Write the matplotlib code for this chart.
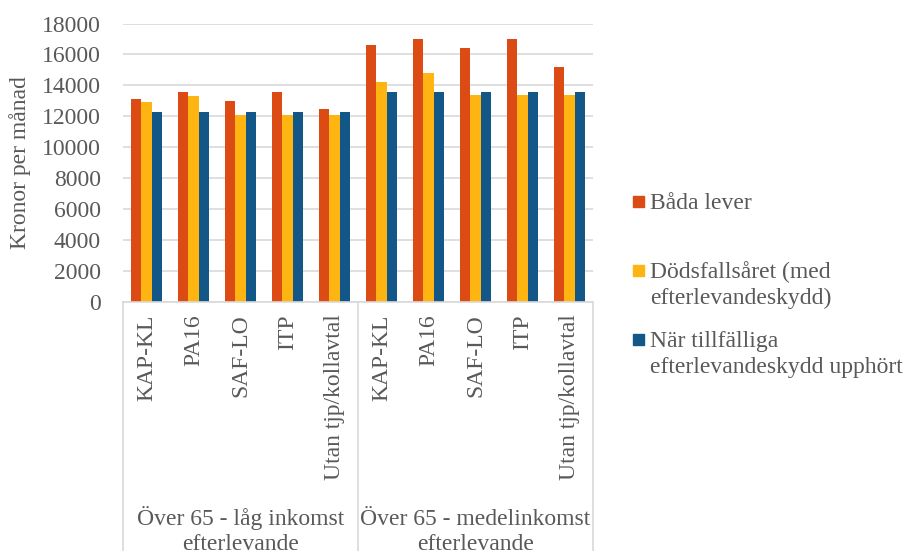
import numpy as np
import matplotlib.pyplot as plt
from matplotlib.patches import Rectangle

# Data (kronor per månad)
categories = ["KAP-KL", "PA16", "SAF-LO", "ITP", "Utan tjp/kollavtal"] * 2
groups = ["Över 65 - låg inkomst\nefterlevande", "Över 65 - medelinkomst\nefterlevande"]
series_names = ["Båda lever", "Dödsfallsåret (med\nefterlevandeskydd)",
                "När tillfälliga\nefterlevandeskydd upphört"]
bada_lever = [13100, 13600, 13000, 13600, 12500, 16600, 17000, 16400, 17000, 15200]
dodsfallsaret = [12900, 13300, 12100, 12100, 12100, 14200, 14800, 13400, 13400, 13400]
upphort = [12300, 12300, 12300, 12300, 12300, 13600, 13600, 13600, 13600, 13600]
colors = ["#DC4B14", "#FEB512", "#135789"]

TXT = "#595959"
GRID = "#D9D9D9"
FS = 17

plt.rcParams["font.family"] = ["Liberation Serif", "DejaVu Serif"]

fig = plt.figure(figsize=(9.09, 5.51), dpi=100)
W, H = 909, 551
ax = fig.add_axes([123 / W, 1 - 302 / H, 470 / W, (302 - 23.5) / H])

x = np.arange(len(categories))
bw = 0.22
for i, (vals, col) in enumerate(zip([bada_lever, dodsfallsaret, upphort], colors)):
    ax.bar(x + (i - 1) * bw, vals, bw, color=col, zorder=2)

ax.set_xlim(-0.5, len(categories) - 0.5)
ax.set_ylim(0, 18000)
ax.set_yticks(range(0, 18001, 2000))
ax.grid(axis="y", color=GRID, lw=1.2, zorder=0)
ax.set_axisbelow(True)
for s in ["top", "right", "left"]:
    ax.spines[s].set_visible(False)
ax.spines["bottom"].set_color(GRID)
ax.spines["bottom"].set_linewidth(1.2)

ax.set_xticks(x)
ax.set_xticklabels(categories, rotation=90, va="top", ha="center")
ax.tick_params(axis="x", length=0, pad=9, labelsize=FS, labelcolor=TXT)
ax.tick_params(axis="y", length=0, pad=16, labelsize=FS, labelcolor=TXT)
ax.set_ylabel("Kronor per månad", fontsize=FS, color=TXT, labelpad=8)

# multi-level category axis: separators and group labels
tr = ax.get_xaxis_transform()
for xs in [-0.5, 4.5, 9.5]:
    ax.plot([xs, xs], [0, -0.9], transform=tr, color=GRID, lw=1.2, clip_on=False)
for gi, g in enumerate(groups):
    ax.text(gi * 5 + 2, -(550 - 302) / 278.5, g, transform=tr, ha="center",
            va="baseline", fontsize=FS, color=TXT, linespacing=1.25)

# legend at right (baseline of last line of each entry)
legend_y = [201, 270, 339]
legend_base = [209, 304, 373]
for name, col, yc, yb in zip(series_names, colors, legend_y, legend_base):
    fig.add_artist(Rectangle((633 / W, 1 - (yc + 5.5) / H), 11 / W, 11 / H,
                             transform=fig.transFigure, color=col))
    fig.text(650 / W, 1 - yb / H, name, ha="left", va="baseline",
             fontsize=FS, color=TXT, linespacing=1.32)

fig.savefig("out.png", dpi=100)
